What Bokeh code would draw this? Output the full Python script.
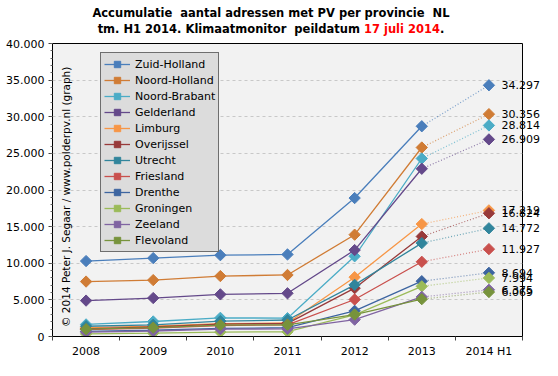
import math
from bokeh.plotting import figure
from bokeh.layouts import column
from bokeh.models import (Range1d, FixedTicker, SingleIntervalTicker, Label, LinearAxis,
                          Legend, LegendItem, Div)
from bokeh.embed import file_html
from bokeh.resources import INLINE

categories = ["2008", "2009", "2010", "2011", "2012", "2013", "2014 H1"]

provinces = ["Zuid-Holland", "Noord-Holland", "Noord-Brabant", "Gelderland", "Limburg",
             "Overijssel", "Utrecht", "Friesland", "Drenthe", "Groningen", "Zeeland", "Flevoland"]

zuid_holland = [10300, 10700, 11100, 11200, 18900, 28700, 34297]
noord_holland = [7500, 7700, 8250, 8400, 13900, 25800, 30356]
noord_brabant = [1650, 2050, 2550, 2500, 10950, 24300, 28814]
gelderland = [4900, 5250, 5750, 5900, 11800, 22900, 26909]
limburg = [1200, 1400, 1750, 1850, 8100, 15350, 17219]
overijssel = [1050, 1300, 1700, 1800, 6600, 13650, 16824]
utrecht = [1400, 1600, 2100, 2250, 7050, 12750, 14772]
friesland = [950, 1150, 1500, 1600, 5050, 10200, 11927]
drenthe = [700, 850, 1100, 1200, 3500, 7550, 8694]
groningen = [350, 450, 600, 650, 2950, 6850, 7994]
zeeland = [600, 750, 1000, 1050, 2300, 5400, 6375]
flevoland = [1000, 1200, 1550, 1600, 3000, 5100, 6069]

series = [zuid_holland, noord_holland, noord_brabant, gelderland, limburg, overijssel,
          utrecht, friesland, drenthe, groningen, zeeland, flevoland]

colors = ["#4a7ebb", "#d07c35", "#4bacc6", "#64498a", "#f79646", "#983a3a",
          "#31859c", "#c9504d", "#3d65a0", "#9bbb59", "#8064a2", "#77933c"]

y_tick_values = [0, 5000, 10000, 15000, 20000, 25000, 30000, 35000, 40000]
y_tick_labels = ["0", "5.000", "10.000", "15.000", "20.000", "25.000", "30.000", "35.000", "40.000"]

title_line1 = "Accumulatie&nbsp; aantal adressen met PV per provincie&nbsp; NL"
title_line2a = "tm. H1 2014. Klimaatmonitor&nbsp; peildatum "
title_line2b = "17 juli 2014"
title_line2c = "."

FONT = "DejaVu Sans"
W = 542
TITLE_H = 36
H = 360 - TITLE_H
B_LEFT, B_RIGHT, B_TOP, B_BOTTOM = 52, 16, 7, 24
FRAME_H = H - B_TOP - B_BOTTOM

div = Div(text=(f"{title_line1}<br>{title_line2a}"
                f"<span style='color:#ff0000'>{title_line2b}</span>{title_line2c}"),
          width=W, height=TITLE_H, margin=(0, 0, 0, 0),
          styles={"font-family": FONT, "font-size": "11.5px", "font-weight": "bold",
                  "line-height": "16px", "text-align": "center", "color": "black",
                  "padding-top": "5px", "box-sizing": "border-box"})

p = figure(width=W, height=H, output_backend="svg", toolbar_location=None,
           x_range=Range1d(0, len(categories)), y_range=Range1d(0, 40000),
           min_border_left=B_LEFT, min_border_right=B_RIGHT,
           min_border_top=B_TOP, min_border_bottom=B_BOTTOM, margin=(0, 0, 0, 0))
p.background_fill_color = "#f2f2f2"
p.border_fill_color = "white"
p.outline_line_color = "black"
p.outline_line_width = 1

centers = [i + 0.5 for i in range(len(categories))]
bounds = [i for i in range(len(categories) + 1)]

# x axis
p.xaxis.ticker = FixedTicker(ticks=centers, minor_ticks=bounds)
p.xaxis.major_label_overrides = {c: lab for c, lab in zip(centers, categories)}
p.xaxis.major_tick_out = 0
p.xaxis.major_tick_in = 0
p.xaxis.minor_tick_out = 4
p.xaxis.minor_tick_in = 0
p.xaxis.axis_line_color = "black"
p.xaxis.minor_tick_line_color = "#444444"
p.xaxis.major_label_text_font = FONT
p.xaxis.major_label_text_font_size = "11px"
p.xaxis.major_label_text_color = "black"
p.xaxis.major_label_standoff = 4
p.xgrid.grid_line_color = None

# y axis
p.yaxis.ticker = SingleIntervalTicker(interval=5000, num_minor_ticks=5)
p.yaxis.major_label_overrides = {v: lab for v, lab in zip(y_tick_values, y_tick_labels)}
p.yaxis.major_tick_out = 4
p.yaxis.major_tick_in = 0
p.yaxis.minor_tick_out = 2
p.yaxis.minor_tick_in = 0
p.yaxis.axis_line_color = "black"
p.yaxis.major_tick_line_color = "#444444"
p.yaxis.minor_tick_line_color = "#666666"
p.yaxis.major_label_text_font = FONT
p.yaxis.major_label_text_font_size = "11px"
p.yaxis.major_label_text_color = "black"
p.yaxis.major_label_standoff = 4
p.ygrid.grid_line_color = "#c8c8c8"
p.ygrid.grid_line_dash = "3 3"

items = []
for name, vals, col in zip(provinces, series, colors):
    lr = p.line(centers[:-1], vals[:-1], line_color=col, line_width=1.3)
    p.line(centers[-2:], vals[-2:], line_color=col, line_width=1.2, line_dash="1 2", line_alpha=0.7)
    sr = p.scatter(centers, vals, marker="square", angle=math.pi / 4, size=8,
                   fill_color=col, line_color=col)
    items.append(LegendItem(label=name, renderers=[lr, sr]))

# value labels for the last point: a right-hand axis whose ticks sit at the last values
last_vals = [vals[-1] for vals in series]
value_axis = LinearAxis(ticker=FixedTicker(ticks=last_vals),
                        major_label_overrides={v: f"{v:,}".replace(",", ".") for v in last_vals})
value_axis.axis_line_color = None
value_axis.major_tick_line_color = None
value_axis.minor_tick_line_color = None
value_axis.major_tick_out = 0
value_axis.major_tick_in = 0
value_axis.major_label_standoff = -21
value_axis.major_label_text_font = FONT
value_axis.major_label_text_font_size = "11px"
value_axis.major_label_text_color = "black"
p.add_layout(value_axis, "right")

legend = Legend(items=items, location=(48, FRAME_H - 11 - 198))
legend.background_fill_color = "#dcdcdc"
legend.background_fill_alpha = 1
legend.border_line_color = "black"
legend.border_line_width = 1
legend.label_text_font = FONT
legend.label_text_font_size = "11px"
legend.label_text_color = "black"
legend.label_height = 16
legend.glyph_height = 16
legend.glyph_width = 26
legend.spacing = 0
legend.padding = 3
legend.margin = 0
legend.label_standoff = 5
p.add_layout(legend, "center")

# copyright text
p.add_layout(Label(x=0.2, y=1300, text="\u00a9 2014 Peter J. Segaar / www.polderpv.nl (graph)",
                   angle=math.pi / 2, text_align="left", text_baseline="middle",
                   text_font=FONT, text_font_size="10.5px", text_color="black"))

layout = column(div, p, spacing=0)
open("out.html", "w").write(file_html(layout, INLINE))
